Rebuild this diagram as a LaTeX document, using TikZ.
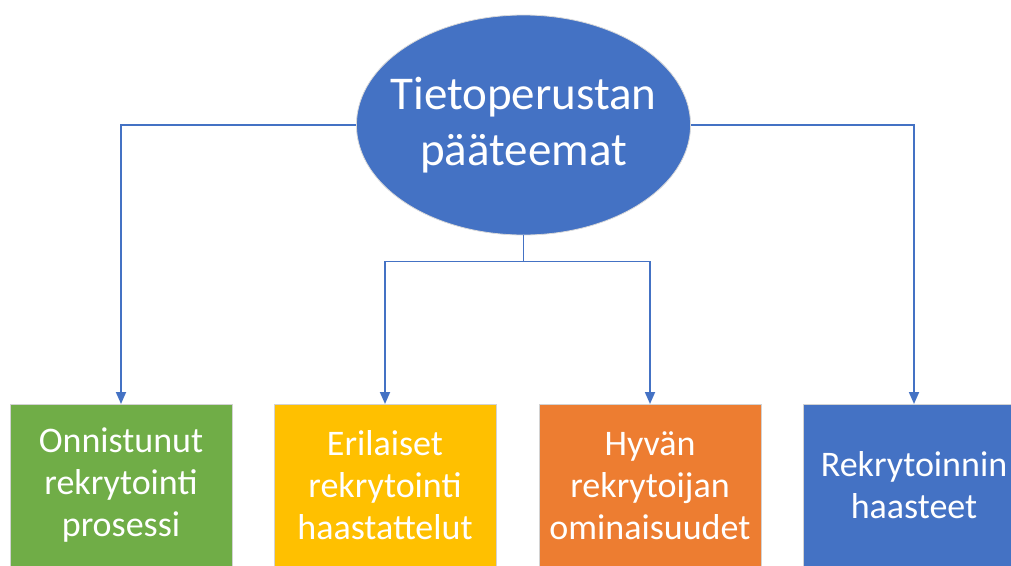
\documentclass[tikz,border=0pt]{standalone}
\usepackage{fontspec}
\setmainfont{Carlito}
\usepackage{xcolor}
\usetikzlibrary{positioning,arrows.meta,shapes.geometric}

\definecolor{officeblue}{HTML}{4472C4}
\definecolor{officegreen}{HTML}{70AD47}
\definecolor{officegold}{HTML}{FFC000}
\definecolor{officeorange}{HTML}{ED7D31}

\begin{document}
\begin{tikzpicture}[
  x=1pt, y=-1pt,
  teema/.style={ellipse, draw=gray!30, line width=0.8pt, fill=officeblue, text=white,
                minimum height=220pt, inner xsep=-15pt, inner ysep=0pt,
                align=center, font=\fontsize{47}{56}\selectfont},
  laatikko/.style={rectangle, draw=gray!35, line width=1pt, text=white,
                   minimum width=222pt, minimum height=162pt, inner sep=0pt,
                   align=center, font=\fontsize{36}{42}\selectfont},
  arr/.style={-{Triangle[length=12pt, width=10pt]}, line width=1.8pt, draw=officeblue},
  yhd/.style={line width=1.8pt, draw=officeblue},
  node distance=41pt
]
\useasboundingbox (0,0) rectangle (1011,565);

%% Main theme (top, centred)
\node[teema] (tema) at (523.5,125) {Tietoperustan\\pääteemat};

%% Sub-themes (bottom row)
\node[laatikko, fill=officegreen, anchor=north] (onn) at (121,404)
  {Onnistunut\\rekrytointi\\prosessi};
\node[laatikko, fill=officegold, right=41pt of onn] (eri)
  {Erilaiset\\rekrytointi\\haastattelut};
\node[laatikko, fill=officeorange, right=42pt of eri] (hyv)
  {Hyvän\\rekrytoijan\\ominaisuudet};
\node[laatikko, fill=officeblue, right=41pt of hyv] (haa)
  {Rekrytoinnin\\haasteet};

%% Connectors
\draw[arr] (tema.west) -| (onn.north);
\draw[arr] (tema.east) -| (haa.north);
\draw[yhd] (tema.south) -- ++(0,26) coordinate (haara);
\draw[arr] (haara) -| (eri.north);
\draw[arr] (haara) -| (hyv.north);
\end{tikzpicture}
\end{document}
